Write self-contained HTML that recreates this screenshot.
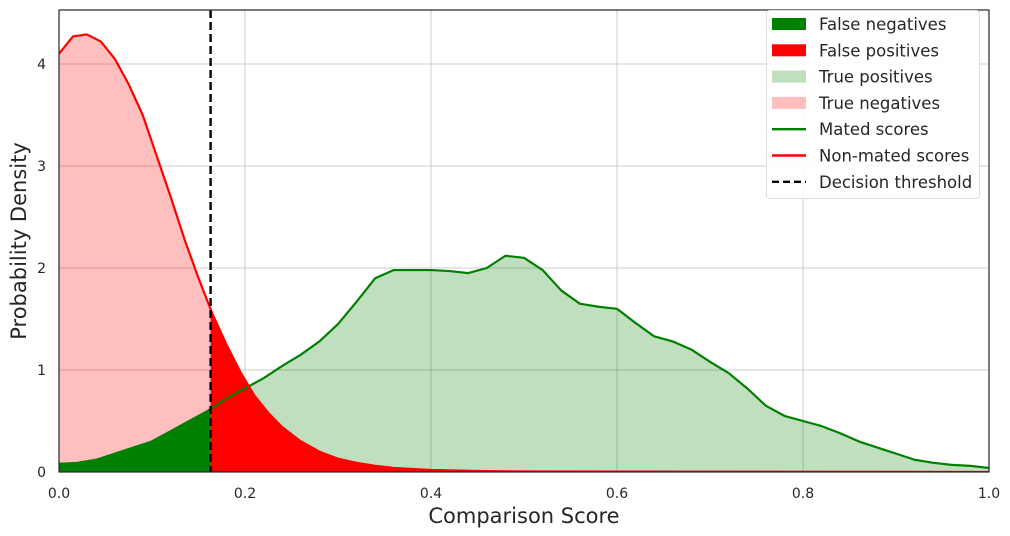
<!DOCTYPE html>
<html><head><meta charset="utf-8"><style>
body{margin:0;background:#fff;}
svg{display:block;font-family:"DejaVu Sans","Liberation Sans",sans-serif;}
</style></head><body>
<svg id="chart" width="1010" height="536"></svg>
<script>
const matedX=[0,0.02,0.04,0.06,0.08,0.1,0.12,0.14,0.16,0.18,0.2,0.22,0.24,0.26,0.28,0.3,0.32,0.34,0.36,0.38,0.4,0.42,0.44,0.46,0.48,0.5,0.52,0.54,0.56,0.58,0.6,0.62,0.64,0.66,0.68,0.7,0.72,0.74,0.76,0.78,0.8,0.82,0.84,0.86,0.88,0.9,0.92,0.94,0.96,0.98,1.0];
const matedY=[0.08,0.09,0.12,0.18,0.24,0.3,0.4,0.5,0.6,0.72,0.82,0.92,1.04,1.15,1.28,1.45,1.67,1.9,1.98,1.98,1.98,1.97,1.95,2.0,2.12,2.1,1.98,1.78,1.65,1.62,1.6,1.46,1.33,1.28,1.2,1.08,0.97,0.82,0.65,0.55,0.5,0.45,0.38,0.3,0.24,0.18,0.12,0.09,0.07,0.06,0.04];
const nonX=[0,0.015,0.03,0.045,0.06,0.075,0.09,0.105,0.12,0.135,0.15,0.165,0.18,0.195,0.21,0.225,0.24,0.26,0.28,0.3,0.32,0.34,0.36,0.4,0.45,0.5,1.0];
const nonY=[4.1,4.27,4.29,4.22,4.05,3.8,3.5,3.1,2.7,2.28,1.9,1.55,1.25,0.98,0.75,0.58,0.44,0.3,0.2,0.13,0.09,0.06,0.04,0.02,0.01,0.005,0];
const threshold=0.163;
const xTicks=[0,0.2,0.4,0.6,0.8,1.0];
const xTickLabels=["0.0","0.2","0.4","0.6","0.8","1.0"];
const yTicks=[0,1,2,3,4];
const legendLabels=["False negatives","False positives","True positives","True negatives","Mated scores","Non-mated scores","Decision threshold"];

const L=59,R=989,T=10,B=472;
const sx=v=>L+v*(R-L);
const sy=v=>B-v*102;
const NS="http://www.w3.org/2000/svg";
const svg=document.getElementById('chart');
function el(tag,attrs,parent){const e=document.createElementNS(NS,tag);for(const k in attrs)e.setAttribute(k,attrs[k]);(parent||svg).appendChild(e);return e;}

const defs=el('defs',{});
const cl=el('clipPath',{id:'left'},defs);el('rect',{x:L,y:T,width:sx(threshold)-L,height:B-T},cl);
const cr=el('clipPath',{id:'right'},defs);el('rect',{x:sx(threshold),y:T,width:R-sx(threshold),height:B-T},cr);
const ca=el('clipPath',{id:'area'},defs);el('rect',{x:L,y:T,width:R-L,height:B-T},ca);

xTicks.forEach(t=>{const g=el('line',{x1:sx(t),x2:sx(t),y1:T,y2:B,stroke:'#cccccc','stroke-width':1});
});
yTicks.forEach(t=>{const g=el('line',{x1:L,x2:R,y1:sy(t),y2:sy(t),stroke:'#cccccc','stroke-width':1});
});

function linePts(xs,ys){return xs.map((x,i)=>sx(x)+','+sy(ys[i])).join(' ');}
function areaPts(xs,ys){return sx(xs[0])+','+sy(0)+' '+linePts(xs,ys)+' '+sx(xs[xs.length-1])+','+sy(0);}

const g=el('g',{'clip-path':'url(#area)'});
const tp=el('polygon',{points:areaPts(matedX,matedY),fill:'#008000','fill-opacity':0.25,'clip-path':'url(#right)'},g);

const tn=el('polygon',{points:areaPts(nonX,nonY),fill:'#ff0000','fill-opacity':0.25,'clip-path':'url(#left)'},g);

const fn=el('polygon',{points:areaPts(matedX,matedY),fill:'#008000','clip-path':'url(#left)'},g);

const fp=el('polygon',{points:areaPts(nonX,nonY),fill:'#ff0000','clip-path':'url(#right)'},g);

const ml=el('polyline',{points:linePts(matedX,matedY),fill:'none',stroke:'#008000','stroke-width':2.2,'stroke-linejoin':'round'},g);

const nl=el('polyline',{points:linePts(nonX,nonY),fill:'none',stroke:'#ff0000','stroke-width':2.2,'stroke-linejoin':'round'},g);

const th=el('line',{x1:sx(threshold),x2:sx(threshold),y1:T,y2:B,stroke:'#000','stroke-width':2.4,'stroke-dasharray':'8,4'},g);


const fr=el('rect',{x:L,y:T,width:R-L,height:B-T,fill:'none',stroke:'#262626','stroke-width':1.2});


xTicks.forEach((t,i)=>{const tx=el('text',{x:sx(t),y:498,'text-anchor':'middle','font-size':14,fill:'#262626'});tx.textContent=xTickLabels[i];
});
yTicks.forEach(t=>{const tx=el('text',{x:46,y:sy(t)+5,'text-anchor':'end','font-size':14,fill:'#262626'});tx.textContent=String(t);
});

const xl=el('text',{x:(L+R)/2,y:523,'text-anchor':'middle','font-size':21,fill:'#262626'});xl.textContent='Comparison Score';

const yl=el('text',{x:0,y:0,'text-anchor':'middle','font-size':21,fill:'#262626',transform:'translate(26,241) rotate(-90)'});yl.textContent='Probability Density';


const lg=el('g',{});

el('rect',{x:766.5,y:10.5,width:213,height:188,rx:3,fill:'#fff','fill-opacity':0.85,stroke:'#dddddd'},lg);
const sw=[{t:'p',c:'#008000',o:1},{t:'p',c:'#ff0000',o:1},{t:'p',c:'#008000',o:0.25},{t:'p',c:'#ff0000',o:0.25},{t:'l',c:'#008000'},{t:'l',c:'#ff0000'},{t:'d',c:'#000'}];
legendLabels.forEach((lab,i)=>{
 const y=24+i*26.3;
 const s=sw[i];
 if(s.t==='p'){el('rect',{x:772,y:y-6,width:34,height:12,fill:s.c,'fill-opacity':s.o},lg);}
 else{el('line',{x1:772,x2:806,y1:y,y2:y,stroke:s.c,'stroke-width':2.4,'stroke-dasharray':s.t==='d'?'7,4':'none'},lg);}
 const tx=el('text',{x:819,y:y+6,'font-size':16.5,fill:'#262626'},lg);tx.textContent=lab;
 
});
</script>
</body></html>
